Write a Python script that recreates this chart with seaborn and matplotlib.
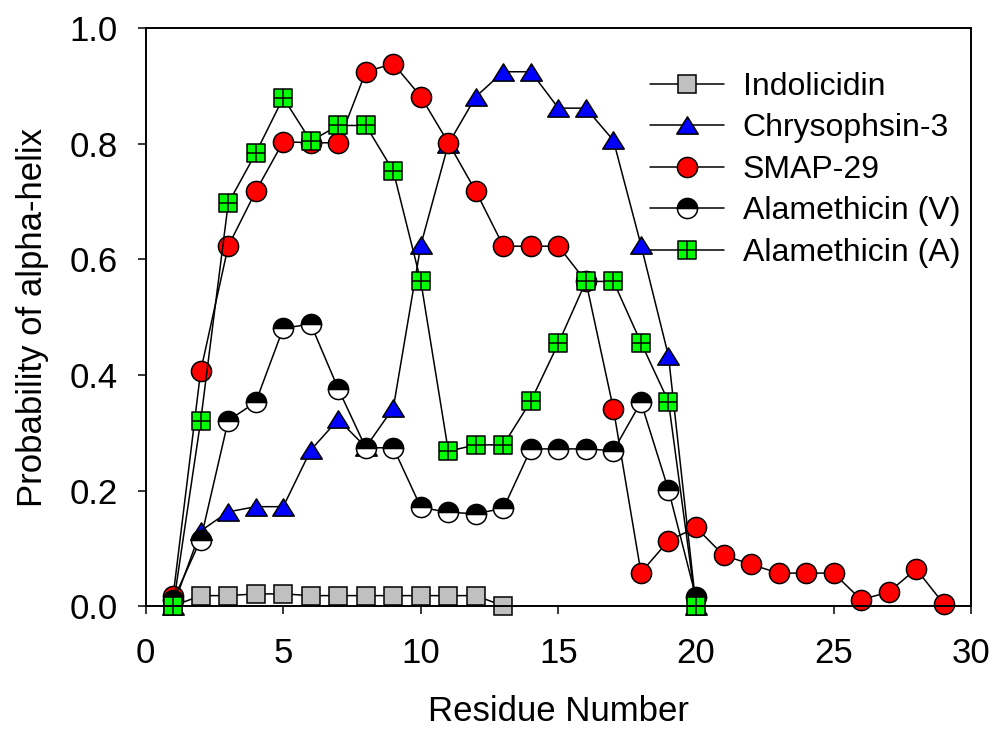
import numpy as np
import pandas as pd
import matplotlib
matplotlib.use("Agg")
import matplotlib.pyplot as plt
from matplotlib.path import Path
import seaborn as sns

# Helix probability per residue for each peptide
indolicidin_x = list(range(1, 14))
indolicidin_y = [0.0, 0.018, 0.018, 0.021, 0.021, 0.018, 0.018, 0.018,
                 0.018, 0.018, 0.018, 0.018, 0.0]

chrysophsin_x = list(range(1, 21))
chrysophsin_y = [0.0, 0.13, 0.163, 0.172, 0.172, 0.27, 0.323, 0.275, 0.343, 0.625,
                 0.80, 0.882, 0.925, 0.925, 0.862, 0.862, 0.806, 0.625, 0.433, 0.0]

smap29_x = list(range(1, 30))
smap29_y = [0.018, 0.407, 0.623, 0.718, 0.804, 0.802, 0.802, 0.925, 0.939, 0.882,
            0.802, 0.718, 0.623, 0.623, 0.623, 0.562, 0.341, 0.058, 0.113, 0.136,
            0.088, 0.072, 0.057, 0.057, 0.057, 0.011, 0.024, 0.064, 0.004]

alam_v_x = list(range(1, 21))
alam_v_y = [0.01, 0.115, 0.321, 0.353, 0.481, 0.488, 0.376, 0.274, 0.274, 0.171,
            0.162, 0.160, 0.169, 0.272, 0.272, 0.272, 0.269, 0.353, 0.201, 0.015]

alam_a_x = list(range(1, 21))
alam_a_y = [0.0, 0.321, 0.697, 0.784, 0.880, 0.805, 0.832, 0.832, 0.753, 0.562,
            0.268, 0.279, 0.279, 0.355, 0.455, 0.562, 0.562, 0.456, 0.354, 0.0]

series_names = ["Indolicidin", "Chrysophsin-3", "SMAP-29",
                "Alamethicin (V)", "Alamethicin (A)"]

x_ticks = [0, 5, 10, 15, 20, 25, 30]
y_ticks = [0.0, 0.2, 0.4, 0.6, 0.8, 1.0]
y_tick_labels = ["0.0", "0.2", "0.4", "0.6", "0.8", "1.0"]

# Custom marker shapes: a wide triangle and a square split into quarters
tri_path = Path([(0, 0.8), (-1, -0.8), (1, -0.8), (0, 0.8)],
                [Path.MOVETO, Path.LINETO, Path.LINETO, Path.CLOSEPOLY])
grid_sq_path = Path(
    [(-1, -1), (1, -1), (1, 1), (-1, 1), (-1, -1),
     (0, -1), (0, 1), (-1, 0), (1, 0)],
    [Path.MOVETO, Path.LINETO, Path.LINETO, Path.LINETO, Path.CLOSEPOLY,
     Path.MOVETO, Path.LINETO, Path.MOVETO, Path.LINETO])

sns.set_style("ticks")
plt.rcParams["font.family"] = ["Liberation Sans", "DejaVu Sans"]
plt.rcParams["text.color"] = "black"
plt.rcParams["axes.labelcolor"] = "black"

fig = plt.figure(figsize=(9.93, 7.29), dpi=100)
ax = fig.add_axes([0.1467, 0.1687, 0.978 - 0.1467, 0.961 - 0.1687])

common = dict(color="black", linewidth=1.1, markeredgecolor="black",
              markeredgewidth=1.1, clip_on=False, errorbar=None, ax=ax)

sns.lineplot(x=indolicidin_x, y=indolicidin_y, marker="s", markersize=13.5,
             markerfacecolor="#c0c0c0", label=series_names[0], **common)
sns.lineplot(x=chrysophsin_x, y=chrysophsin_y, marker=tri_path, markersize=15.5,
             markerfacecolor="#0000ff", label=series_names[1], **common)
sns.lineplot(x=smap29_x, y=smap29_y, marker="o", markersize=14.5,
             markerfacecolor="#ff0000", label=series_names[2], **common)
sns.lineplot(x=alam_v_x, y=alam_v_y, marker="o", markersize=14.5,
             markerfacecolor="black", fillstyle="top", markerfacecoloralt="white",
             label=series_names[3], **common)
sns.lineplot(x=alam_a_x, y=alam_a_y, marker=grid_sq_path, markersize=13.5,
             markerfacecolor="#00ff00", label=series_names[4], **common)

ax.set_xlim(0, 30)
ax.set_ylim(0, 1.0)
ax.set_xticks(x_ticks)
ax.set_yticks(y_ticks)
ax.set_yticklabels(y_tick_labels)
ax.tick_params(direction="out", length=6, width=1.1, labelsize=25,
               color="black", labelcolor="black", pad=14)
ax.tick_params(axis="x", pad=16)
for side in ["left", "right", "top", "bottom"]:
    ax.spines[side].set_visible(True)
    ax.spines[side].set_linewidth(1.4)
    ax.spines[side].set_color("black")

ax.set_xlabel("Residue Number", fontsize=25, labelpad=18, color="black")
ax.set_ylabel("Probability of alpha-helix", fontsize=25, labelpad=15, color="black")

ax.legend(loc="upper left", bbox_to_anchor=(0.611, 0.925), frameon=False,
          fontsize=23, handlelength=2.3, handletextpad=0.6, labelspacing=0.36,
          borderpad=0, borderaxespad=0, numpoints=1)

fig.savefig("out.png", dpi=100)
